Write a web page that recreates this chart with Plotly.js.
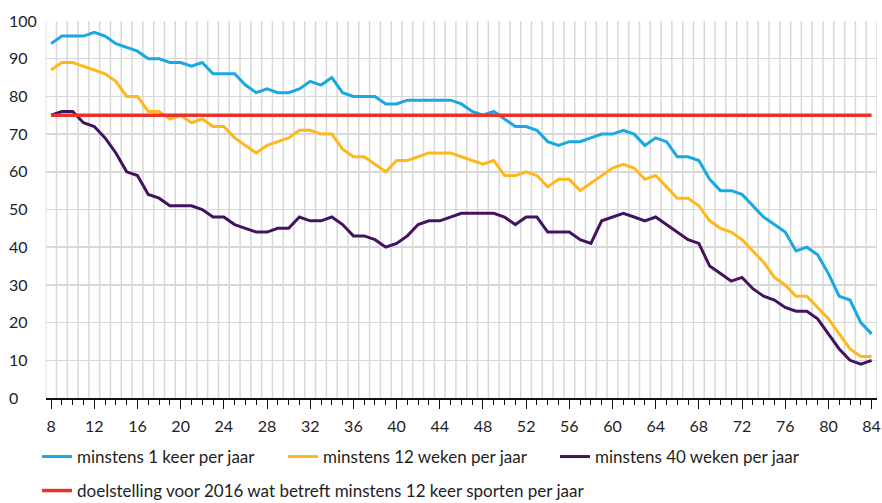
<!DOCTYPE html>
<html>
<head>
<meta charset="utf-8">
<script src="https://cdn.plot.ly/plotly-3.0.1.min.js"></script>
<style>
  html, body { margin: 0; padding: 0; background: #ffffff; }
  #chart { width: 882px; height: 503px; }
</style>
</head>
<body>
<div id="chart"></div>
<script>
// Age (years)
const ages = [8, 9, 10, 11, 12, 13, 14, 15, 16, 17, 18, 19, 20, 21, 22, 23, 24, 25, 26, 27,
  28, 29, 30, 31, 32, 33, 34, 35, 36, 37, 38, 39, 40, 41, 42, 43, 44, 45, 46, 47,
  48, 49, 50, 51, 52, 53, 54, 55, 56, 57, 58, 59, 60, 61, 62, 63, 64, 65, 66, 67,
  68, 69, 70, 71, 72, 73, 74, 75, 76, 77, 78, 79, 80, 81, 82, 83, 84];

// minstens 1 keer per jaar (%)
const keer1 = [94, 96, 96, 96, 97, 96, 94, 93, 92, 90, 90, 89, 89, 88, 89, 86, 86, 86, 83, 81,
  82, 81, 81, 82, 84, 83, 85, 81, 80, 80, 80, 78, 78, 79, 79, 79, 79, 79, 78, 76,
  75, 76, 74, 72, 72, 71, 68, 67, 68, 68, 69, 70, 70, 71, 70, 67, 69, 68, 64, 64,
  63, 58, 55, 55, 54, 51, 48, 46, 44, 39, 40, 38, 33, 27, 26, 20, 17];

// minstens 12 weken per jaar (%)
const weken12 = [87, 89, 89, 88, 87, 86, 84, 80, 80, 76, 76, 74, 75, 73, 74, 72, 72, 69, 67, 65,
  67, 68, 69, 71, 71, 70, 70, 66, 64, 64, 62, 60, 63, 63, 64, 65, 65, 65, 64, 63,
  62, 63, 59, 59, 60, 59, 56, 58, 58, 55, 57, 59, 61, 62, 61, 58, 59, 56, 53, 53,
  51, 47, 45, 44, 42, 39, 36, 32, 30, 27, 27, 24, 21, 17, 13, 11, 11];

// minstens 40 weken per jaar (%)
const weken40 = [75, 76, 76, 73, 72, 69, 65, 60, 59, 54, 53, 51, 51, 51, 50, 48, 48, 46, 45, 44,
  44, 45, 45, 48, 47, 47, 48, 46, 43, 43, 42, 40, 41, 43, 46, 47, 47, 48, 49, 49,
  49, 49, 48, 46, 48, 48, 44, 44, 44, 42, 41, 47, 48, 49, 48, 47, 48, 46, 44, 42,
  41, 35, 33, 31, 32, 29, 27, 26, 24, 23, 23, 21, 17, 13, 10, 9, 10];

// doelstelling voor 2016 (%)
const doelstelling = 75;

const seriesNames = [
  'minstens 1 keer per jaar',
  'minstens 12 weken per jaar',
  'minstens 40 weken per jaar',
  'doelstelling voor 2016 wat betreft minstens 12 keer sporten per jaar'
];

const colors = ['#18a8e2', '#ffb81c', '#42145f', '#e8322b'];
const FONT = 'Lato, "Open Sans", "Noto Sans", sans-serif';
const TEXT = '#1e1e1e';

const firstAge = ages[0];
const lastAge = ages[ages.length - 1];

const traces = [
  { x: ages, y: keer1, name: seriesNames[0], legend: 'legend' },
  { x: ages, y: weken12, name: seriesNames[1], legend: 'legend2' },
  { x: ages, y: weken40, name: seriesNames[2], legend: 'legend3' },
  { x: [firstAge, lastAge], y: [doelstelling, doelstelling], name: seriesNames[3], legend: 'legend4' }
].map((t, i) => Object.assign(t, {
  type: 'scatter',
  mode: 'lines',
  line: { color: colors[i], width: i === 3 ? 3.5 : 3 },
  hoverinfo: 'skip'
}));

// vertical grid lines between the age categories
const shapes = [];
for (let g = firstAge - 0.5; g <= lastAge + 0.5 + 1e-9; g += 1) {
  shapes.push({
    type: 'line', xref: 'x', yref: 'y', x0: g, x1: g, y0: 0, y1: 100,
    line: { color: '#d8d8d8', width: 1.5 }, layer: 'below'
  });
}

const ML = 6, MR = 5, MT = 21, MB = 105, W = 882, H = 503;
const pw = W - ML - MR, ph = H - MT - MB;
const px2x = px => (px - ML) / pw;
const py2y = py => (H - MB - py) / ph;

const legendBase = {
  orientation: 'h', xanchor: 'left', yanchor: 'middle',
  bgcolor: 'rgba(0,0,0,0)', borderwidth: 0,
  font: { family: FONT, size: 17, color: TEXT }
};

const layout = {
  width: W, height: H,
  margin: { l: ML, r: MR, t: MT, b: MB, pad: 0, autoexpand: false },
  paper_bgcolor: '#ffffff', plot_bgcolor: '#ffffff',
  font: { family: FONT, color: TEXT },
  xaxis: {
    domain: [px2x(45.7), 1],
    range: [firstAge - 0.5, lastAge + 0.5],
    tick0: 8, dtick: 4,
    ticks: 'outside', ticklen: 9, tickwidth: 1, tickcolor: '#111',
    minor: { tick0: 8, dtick: 1, ticks: 'outside', ticklen: 5, tickwidth: 1, tickcolor: '#111', showgrid: false },
    showgrid: false, zeroline: false,
    showline: true, linecolor: '#111', linewidth: 1.5,
    tickfont: { family: FONT, size: 16, color: TEXT },
    ticklabelstandoff: 4,
    automargin: false,
    fixedrange: true
  },
  yaxis: {
    range: [0, 100], dtick: 10, tick0: 0,
    anchor: 'free', position: 0, side: 'right',
    showgrid: true, gridcolor: '#d8d8d8', gridwidth: 1.5,
    zeroline: false, showline: false, ticks: '',
    tickfont: { family: FONT, size: 16, color: TEXT },
    ticklabelstandoff: 2,
    automargin: false,
    fixedrange: true
  },
  shapes: shapes,
  showlegend: true,
  legend: Object.assign({}, legendBase, { x: px2x(37), y: py2y(457) }),
  legend2: Object.assign({}, legendBase, { x: px2x(283), y: py2y(457) }),
  legend3: Object.assign({}, legendBase, { x: px2x(555), y: py2y(457) }),
  legend4: Object.assign({}, legendBase, { x: px2x(37), y: py2y(491) })
};

Plotly.newPlot('chart', traces, layout, { displayModeBar: false, staticPlot: true });
</script>
</body>
</html>
